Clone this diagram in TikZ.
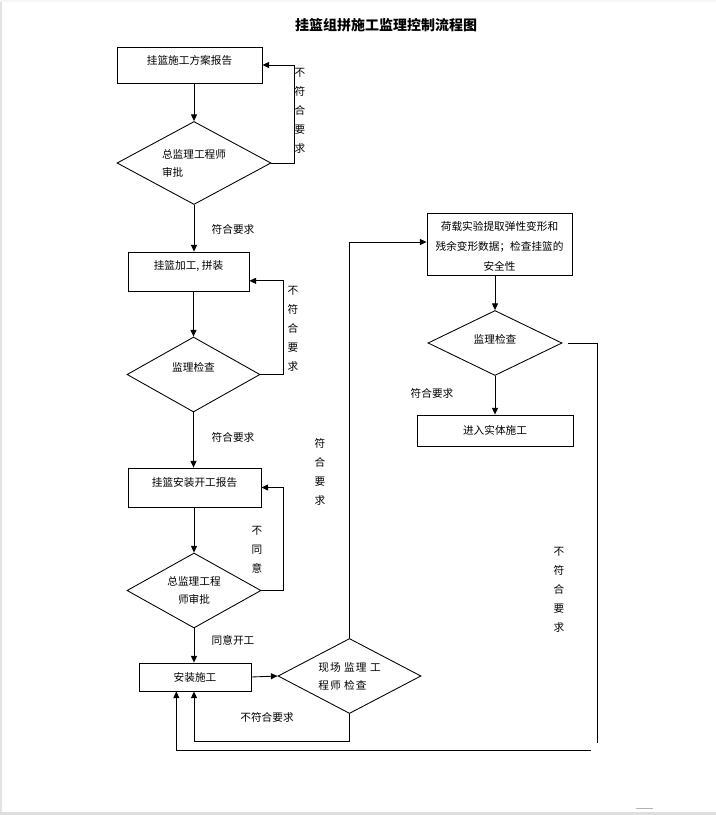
\documentclass[tikz,border=0pt]{standalone}
\usepackage{fontspec}
\setmainfont{Noto Sans CJK SC}
\newfontfamily\titlefont{Noto Sans CJK SC}
\newfontfamily\spacedfont{Noto Sans CJK SC}[LetterSpace=10]
\usetikzlibrary{arrows.meta,shapes.geometric}
\tikzset{
  boxshape/.style={draw, line width=0.65pt, rectangle, inner sep=0pt},
  diashape/.style={draw, line width=0.65pt, diamond, inner sep=0pt},
  txt/.style={font=\fontsize{8}{13.5}\selectfont, inner sep=0pt, align=center},
  txtl/.style={font=\fontsize{8}{13.5}\selectfont, inner sep=0pt, align=left},
  vlbl/.style={font=\fontsize{8}{14.25}\selectfont, inner sep=0pt, align=center},
  arr/.style={line width=0.65pt, -{Triangle[length=5pt,width=4.5pt]}},
  ln/.style={line width=0.65pt},
  titlestyle/.style={font=\titlefont\bfseries\fontsize{10.5}{13}\selectfont, inner sep=0pt},
}
\begin{document}
\begin{tikzpicture}[x=0.75pt,y=-0.75pt]
\fill[white] (0,0) rectangle (716,815);
\useasboundingbox (0,0) rectangle (716,815);
\fill[black!11] (0,0) rectangle (2,815);
\fill[black!13] (0,812) rectangle (716,815);
\fill[black!4] (0,0) rectangle (716,2);
\draw[black!30, line width=0.75pt] (636,808) -- (653,808);

% title
\node[titlestyle] (title) at (386,25) {挂篮组拼施工监理控制流程图};

% left column
\node[boxshape, minimum width=145*0.75pt, minimum height=36*0.75pt] (b1) at (189.5,65) {};
\node[txt] (b1t) at ([yshift=3.75pt]b1.center) {挂篮施工方案报告};

\node[diashape, minimum width=154*0.75pt, minimum height=83*0.75pt] (d1) at (194,163) {};
\node[txtl] (d1t) at (d1.center) {总监理工程师\\审批};

\node[boxshape, minimum width=121*0.75pt, minimum height=39*0.75pt] (b2) at (188.5,271.5) {};
\node[txt] (b2t) at ([yshift=4pt]b2.center) {挂篮加工, 拼装};

\node[diashape, minimum width=133*0.75pt, minimum height=75*0.75pt] (d2) at (193.5,374.5) {};
\node[txt] (d2t) at ([yshift=5pt]d2.center) {监理检查};

\node[boxshape, minimum width=133*0.75pt, minimum height=39*0.75pt] (b3) at (194.5,487.5) {};
\node[txt] (b3t) at ([yshift=4pt]b3.center) {挂篮安装开工报告};

\node[diashape, minimum width=134*0.75pt, minimum height=75*0.75pt] (d3) at (194,590.5) {};
\node[txt] (d3t) at (d3.center) {总监理工程\\师审批};

\node[boxshape, minimum width=112*0.75pt, minimum height=28*0.75pt] (b4) at (195,677) {};
\node[txt] (b4t) at (b4.center) {安装施工};

\node[diashape, minimum width=143*0.75pt, minimum height=75*0.75pt] (d4) at (349.5,676) {};
\node[txtl, font=\spacedfont\fontsize{8}{13.5}\selectfont] (d4t) at (d4.center) {现场 监理 工\\程师 检查};

% right column
\node[boxshape, minimum width=145*0.75pt, minimum height=62*0.75pt] (b5) at (499.5,244) {};
\node[txt, font=\fontsize{8}{15}\selectfont] (b5t) at ([yshift=-1.5pt]b5.center) {荷载实验提取弹性变形和\\残余变形数据；检查挂篮的\\安全性};

\node[diashape, minimum width=134*0.75pt, minimum height=65*0.75pt] (d5) at (495,343) {};
\node[txt] (d5t) at ([yshift=2.5pt]d5.center) {监理检查};

\node[boxshape, minimum width=156*0.75pt, minimum height=31*0.75pt] (b6) at (495,430.5) {};
\node[txt] (b6t) at (b6.center) {进入实体施工};

% main flow arrows
\draw[arr] (d1.north |- b1.south) -- (d1.north);
\draw[arr] (d1.south) -- (d1.south |- b2.north);
\draw[arr] (d2.north |- b2.south) -- (d2.north);
\draw[arr] (d2.south) -- (d2.south |- b3.north);
\draw[arr] (d3.north |- b3.south) -- (d3.north);
\draw[arr] (d3.south) -- (d3.south |- b4.north);
\draw[arr] (b4.east) -- (d4.west);
\draw[arr] (d4.north) |- ([yshift=1.5pt]b5.west);
\draw[arr] (d5.north |- b5.south) -- (d5.north);
\draw[arr] (d5.south) -- (d5.south |- b6.north);

% feedback loops
\draw[arr] (d1.east) -- ++(23,0) |- (b1.east);
\draw[arr] (d2.east) -- ++(23,0) |- ([yshift=-7pt]b2.east);
\draw[arr] (d3.east) -- ++(22,0) |- (b3.east);
\draw[arr] (d4.south) -- ++(0,27) -| ([xshift=-0.75pt]b4.south);

\coordinate (r1) at (597,743);
\coordinate (r2) at (591,750);
\draw[ln] ([xshift=4.5pt]d5.east) -| (r1);
\draw[arr] (r2) -| ([xshift=-14pt]b4.south);

% labels
\node[vlbl] (l1) at (300,111) {不\\符\\合\\要\\求};
\node[txt] (l2) at (233,229) {符合要求};
\node[vlbl] (l3) at (293,328.5) {不\\符\\合\\要\\求};
\node[txt] (l4) at (233,437) {符合要求};
\node[vlbl] (l5) at (320,471.5) {符\\合\\要\\求};
\node[vlbl] (l6) at (257,549.5) {不\\同\\意};
\node[txt] (l7) at (233,640) {同意开工};
\node[txt] (l8) at (267,717) {不符合要求};
\node[txt] (l9) at (432,393) {符合要求};
\node[vlbl] (l10) at (559,589.5) {不\\符\\合\\要\\求};
\end{tikzpicture}
\end{document}
